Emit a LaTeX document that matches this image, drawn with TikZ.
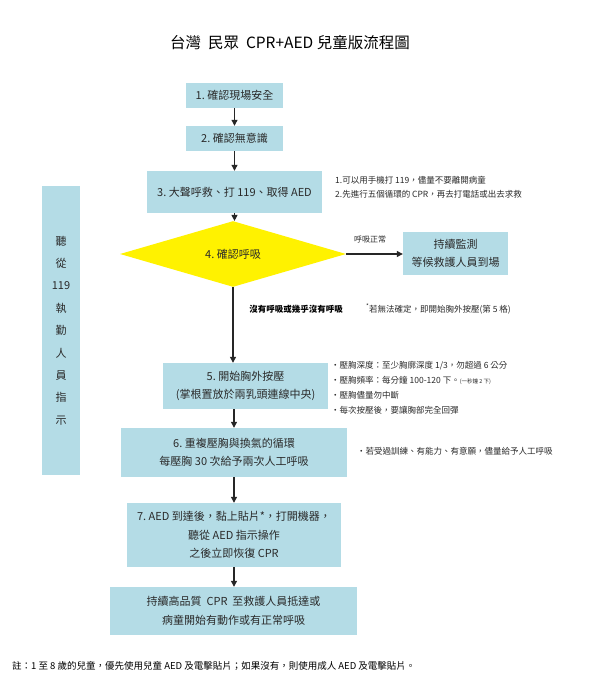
\documentclass[tikz,border=0pt]{standalone}
\usepackage{fontspec}
\setmainfont{Noto Sans CJK TC}
\usetikzlibrary{shapes.geometric,arrows.meta}
\definecolor{boxblue}{HTML}{B4DCE6}
\definecolor{txt}{HTML}{2A2A2A}
\definecolor{diayel}{HTML}{FFF200}
\begin{document}
\begin{tikzpicture}[x=1pt,y=-1pt,
  bx/.style={fill=boxblue, draw=none, inner sep=0pt, align=center, text=txt,
    font=\fontsize{11}{18.5}\selectfont},
  note/.style={anchor=west, align=left, inner sep=0pt, text=txt},
  arr/.style={draw=black!85, line width=1.1pt, -{Triangle[length=6pt,width=6pt]}},
  lin/.style={draw=black!85, line width=1.1pt}]
\useasboundingbox (0,0) rectangle (601,700);
\fill[white] (0,0) rectangle (601,700);

\node[text=black, font=\fontsize{15.5}{18}\selectfont] (title) at (290,43) {台灣\ \ 民眾\ \ CPR+AED 兒童版流程圖};

\node[bx, minimum width=97, minimum height=25] (b1) at (234.5,95.5) {1.\ 確認現場安全};
\node[bx, minimum width=97, minimum height=25] (b2) at (234.5,138.5) {2.\ 確認無意識};
\node[bx, minimum width=175, minimum height=42] (b3) at (234.5,192) {3.\ 大聲呼救、打 119、取得 AED};
\node[note, font=\fontsize{8.5}{14}\selectfont] (n3) at (335,187) {1.可以用手機打 119，儘量不要離開病童\\2.先進行五個循環的 CPR，再去打電話或出去求救};

\node[diamond, fill=diayel, draw=none, inner sep=0pt, minimum width=226, minimum height=39, text=txt, font=\fontsize{11}{13}\selectfont] (d4) at (233,254) {4.\ 確認呼吸};
\node[bx, minimum width=105, minimum height=43] (b4r) at (455.5,253.5) {持續監測\\等候救護人員到場};
\node[text=txt, inner sep=0pt, font=\fontsize{8}{10}\selectfont] (lnorm) at (370,239) {呼吸正常};
\node[text=black, inner sep=0pt, font=\fontsize{8.5}{10}\selectfont\bfseries] (lno) at (296,309) {沒有呼吸或幾乎沒有呼吸};
\node[note, font=\fontsize{8.5}{10}\selectfont] (nstar) at (366,309) {\raisebox{4pt}{\fontsize{6}{6}\selectfont *}若無法確定，即開始胸外按壓(第 5 格)};

\node[bx, minimum width=165, minimum height=46] (b5) at (245.5,386) {5.\ 開始胸外按壓\\(掌根置放於兩乳頭連線中央)};
\node[note, font=\fontsize{8.5}{15}\selectfont] (n5) at (331,387.5) {‧壓胸深度：至少胸廓深度 1/3，勿超過 6 公分\\‧壓胸頻率：每分鐘 100-120 下。{\fontsize{5.5}{6}\selectfont (一秒鐘 2 下)}\\‧壓胸儘量勿中斷\\‧每次按壓後，要讓胸部完全回彈};

\node[bx, minimum width=226, minimum height=49] (b6) at (234,452.5) {6.\ 重複壓胸與換氣的循環\\每壓胸 30 次給予兩次人工呼吸};
\node[note, font=\fontsize{8.5}{10}\selectfont] (n6) at (357,451) {‧若受過訓練、有能力、有意願，儘量給予人工呼吸};

\node[bx, minimum width=214, minimum height=64] (b7) at (234,535) {7.\ AED 到達後，黏上貼片*，打開機器，\\聽從 AED 指示操作\\之後立即恢復 CPR};
\node[bx, minimum width=247, minimum height=48] (b8) at (233.5,611) {持續高品質\ \ CPR\ \ 至救護人員抵達或\\病童開始有動作或有正常呼吸};

\node[bx, minimum width=38, minimum height=289, font=\fontsize{11}{22.4}\selectfont] (left) at (61,330.5) {聽\\從\\119\\執\\勤\\人\\員\\指\\示};

\node[note, text=black, font=\fontsize{9.5}{11}\selectfont] (foot) at (12,666) {註：1 至 8 歲的兒童，優先使用兒童 AED 及電擊貼片；如果沒有，則使用成人 AED 及電擊貼片。};

\draw[arr] (b1.south) -- (b1.south |- b2.north);
\draw[arr] (b2.south) -- (b2.south |- b3.north);
\draw[arr] (b3.south) -- (b3.south |- d4.north);
\draw[arr] (d4.east) -- (b4r.west |- d4.east);
\draw[arr] (d4.south) -- (d4.south |- b5.north);
\draw[arr] (b6.north |- b5.south) -- (b6.north);
\draw[arr] (b6.south) -- (b6.south |- b7.north);
\draw[arr] (b7.south) -- (b7.south |- b8.north);
\end{tikzpicture}
\end{document}
